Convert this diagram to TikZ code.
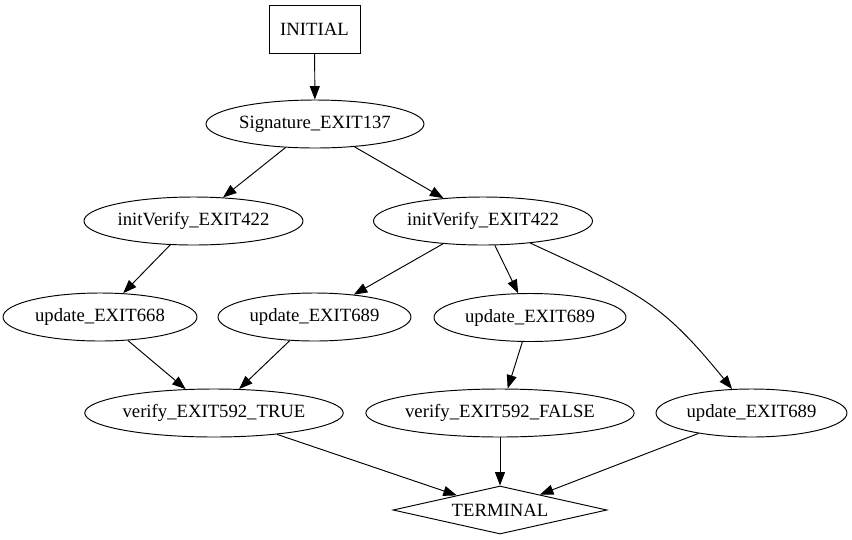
\documentclass[tikz,border=0pt]{standalone}
\usepackage{fontspec}
\setmainfont{Liberation Serif}
\usetikzlibrary{shapes.geometric,arrows.meta}
\begin{document}
\begin{tikzpicture}[x=1pt,y=-1pt,
  base/.style={draw, line width=0.95pt, inner sep=0pt, font=\fontsize{18.7}{22}\selectfont, minimum height=48pt},
  ell/.style={base, ellipse},
  box/.style={base, rectangle, minimum width=91pt},
  term/.style={base, diamond, aspect=4.46, minimum width=214pt},
  conn/.style={draw, line width=0.95pt, -{Triangle[length=13.5pt,width=10pt]}}]
\useasboundingbox (0,0) rectangle (852,539);
\node[box] (init) at (314.5,29) {INITIAL};
\node[ell, minimum width=218pt] (sig) at (315,124) {Signature\_EXIT137};
\node[ell, minimum width=219pt] (ivL) at (193.5,221) {initVerify\_EXIT422};
\node[ell, minimum width=219pt] (ivR) at (483,221) {initVerify\_EXIT422};
\node[ell, minimum width=194pt] (u668) at (100,317) {update\_EXIT668};
\node[ell, minimum width=193pt] (umL) at (314.5,317) {update\_EXIT689};
\node[ell, minimum width=192pt] (umR) at (530,317.5) {update\_EXIT689};
\node[ell, minimum width=258pt] (vT) at (214,413) {verify\_EXIT592\_TRUE};
\node[ell, minimum width=268pt] (vF) at (500,413) {verify\_EXIT592\_FALSE};
\node[ell, minimum width=191pt] (uR) at (751.5,413) {update\_EXIT689};
\node[term] (term) at (500,510) {TERMINAL};
\draw[conn] (init) -- (sig);
\draw[conn] (sig) -- (ivL);
\draw[conn] (sig) -- (ivR);
\draw[conn] (ivL) -- (u668);
\draw[conn] (ivR) -- (umL);
\draw[conn] (ivR) -- (umR);
\draw[conn] (ivR) to[out=-25, in=129, looseness=1.2] (uR);
\draw[conn] (u668) -- (vT);
\draw[conn] (umL) -- (vT);
\draw[conn] (umR) -- (vF);
\draw[conn] (vT) -- (term);
\draw[conn] (vF) -- (term);
\draw[conn] (uR) -- (term);
\end{tikzpicture}
\end{document}
